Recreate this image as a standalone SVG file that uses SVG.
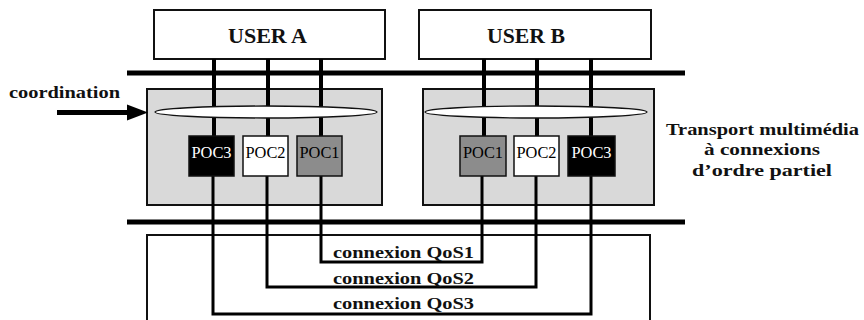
<svg xmlns="http://www.w3.org/2000/svg" width="864" height="320" viewBox="0 0 864 320">
<defs>
<style>
.bt{font-family:'Liberation Serif','DejaVu Serif','Times New Roman',serif;font-weight:bold;fill:#111}
.poc{font-family:'Liberation Serif','DejaVu Serif','Times New Roman',serif;font-size:16px}
.box{fill:#fff;stroke:#111;stroke-width:2}
.gbox{fill:#d9d9d9;stroke:#111;stroke-width:2}
.ell{fill:#fff;stroke:#111;stroke-width:1.3}
.bus{stroke:#000;stroke-width:5;fill:none}
.w4{stroke:#000;stroke-width:4;fill:none}
.w3{stroke:#000;stroke-width:3;fill:none}
</style>
</defs>
<rect width="864" height="320" fill="#fff"/>

<g id="userA"><rect class="box" x="154" y="10" width="231" height="49"/>
<text class="bt" x="267.5" y="43" font-size="21" text-anchor="middle" textLength="79" lengthAdjust="spacingAndGlyphs">USER A</text></g>
<g id="userB"><rect class="box" x="419" y="10" width="232" height="49"/>
<text class="bt" x="526" y="43" font-size="21" text-anchor="middle" textLength="78" lengthAdjust="spacingAndGlyphs">USER B</text></g>

<g id="buses">
<line class="bus" x1="127" y1="73" x2="685" y2="73"/>
<line class="bus" x1="127" y1="222" x2="685" y2="222"/>
</g>

<g id="transportA"><rect class="gbox" x="147" y="89" width="235" height="116"/></g>
<g id="transportB"><rect class="gbox" x="423" y="89" width="231" height="116"/></g>

<g id="network"><path d="M147,322 V235 H650 V322" fill="none" stroke="#111" stroke-width="2"/></g>

<g id="connectors">
<line class="w4" x1="214" y1="59" x2="214" y2="136"/>
<line class="w4" x1="268" y1="59" x2="268" y2="136"/>
<line class="w4" x1="321" y1="59" x2="321" y2="136"/>
<line class="w4" x1="484" y1="59" x2="484" y2="136"/>
<line class="w4" x1="537" y1="59" x2="537" y2="136"/>
<line class="w4" x1="591" y1="59" x2="591" y2="136"/>
<path class="w3" d="M321,176 V262 H482 V176"/>
<path class="w3" d="M267,176 V287 H536 V176"/>
<path class="w3" d="M213,176 V314 H591 V176"/>
<line x1="57" y1="112.5" x2="130" y2="112.5" stroke="#000" stroke-width="5"/>
<path d="M127,104.5 L148,112.5 L127,120.5 z" fill="#000"/>
</g>

<g id="ellipseA"><ellipse class="ell" cx="266" cy="112" rx="111" ry="6"/></g>
<g id="ellipseB"><ellipse class="ell" cx="536" cy="112" rx="111" ry="6"/></g>

<g id="A-POC3"><rect x="189" y="136" width="45" height="40" fill="#000" stroke="#111" stroke-width="1.5"/>
<text class="poc" x="211.5" y="158" fill="#fff" text-anchor="middle" textLength="40" lengthAdjust="spacingAndGlyphs">POC3</text></g>
<g id="A-POC2"><rect x="243" y="136" width="45" height="40" fill="#fff" stroke="#111" stroke-width="1.5"/>
<text class="poc" x="265.5" y="158" fill="#000" text-anchor="middle" textLength="40" lengthAdjust="spacingAndGlyphs">POC2</text></g>
<g id="A-POC1"><rect x="297" y="136" width="45" height="40" fill="#8c8c8c" stroke="#111" stroke-width="1.5"/>
<text class="poc" x="319.5" y="158" fill="#000" text-anchor="middle" textLength="40" lengthAdjust="spacingAndGlyphs">POC1</text></g>

<g id="B-POC1"><rect x="460" y="136" width="46" height="40" fill="#8c8c8c" stroke="#111" stroke-width="1.5"/>
<text class="poc" x="483" y="158" fill="#000" text-anchor="middle" textLength="40" lengthAdjust="spacingAndGlyphs">POC1</text></g>
<g id="B-POC2"><rect x="514" y="136" width="45" height="40" fill="#fff" stroke="#111" stroke-width="1.5"/>
<text class="poc" x="536.5" y="158" fill="#000" text-anchor="middle" textLength="40" lengthAdjust="spacingAndGlyphs">POC2</text></g>
<g id="B-POC3"><rect x="568" y="136" width="47" height="40" fill="#000" stroke="#111" stroke-width="1.5"/>
<text class="poc" x="591.5" y="158" fill="#fff" text-anchor="middle" textLength="40" lengthAdjust="spacingAndGlyphs">POC3</text></g>

<g id="labels">
<text class="bt" x="9" y="98" font-size="16" textLength="111" lengthAdjust="spacingAndGlyphs">coordination</text>
<text class="bt" x="762.5" y="135" font-size="17" text-anchor="middle" textLength="193" lengthAdjust="spacingAndGlyphs">Transport multimédia</text>
<text class="bt" x="762" y="155" font-size="17" text-anchor="middle" textLength="116" lengthAdjust="spacingAndGlyphs">à connexions</text>
<text class="bt" x="762" y="176" font-size="17" text-anchor="middle" textLength="140" lengthAdjust="spacingAndGlyphs">d’ordre partiel</text>
<text class="bt" x="333" y="258" font-size="16.5" textLength="141" lengthAdjust="spacingAndGlyphs">connexion QoS1</text>
<text class="bt" x="333" y="284" font-size="16.5" textLength="141" lengthAdjust="spacingAndGlyphs">connexion QoS2</text>
<text class="bt" x="333" y="309" font-size="16.5" textLength="141" lengthAdjust="spacingAndGlyphs">connexion QoS3</text>
</g>
</svg>
